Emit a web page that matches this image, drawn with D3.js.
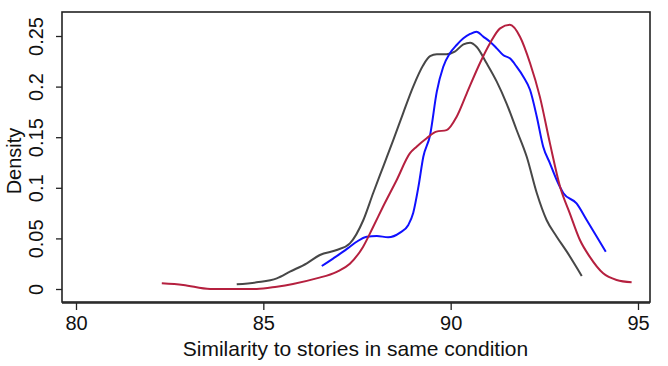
<!DOCTYPE html>
<html><head><meta charset="utf-8">
<script src="https://cdn.jsdelivr.net/npm/d3@7"></script>
<style>body{margin:0;background:#fff}svg{display:block}text{font-family:"Liberation Sans",Arial,Helvetica,sans-serif;fill:#111}</style>
</head><body><svg id="c" width="668" height="366"></svg>
<script>
const xTicks = [80, 85, 90, 95];
const yTicks = [0, 0.05, 0.1, 0.15, 0.2, 0.25];
const yTickLabels = ["0", "0.05", "0.1", "0.15", "0.2", "0.25"];
const xTitle = "Similarity to stories in same condition";
const yTitle = "Density";

const grayX = [84.29,84.82,85.36,85.71,86.16,86.51,86.96,87.31,87.67,87.93,88.20,88.47,88.73,89.00,89.27,89.45,89.63,89.89,90.11,90.34,90.52,90.69,90.96,91.23,91.49,91.76,92.03,92.30,92.56,92.83,93.10,93.50];
const grayY = [0.0046,0.0066,0.0105,0.0171,0.0254,0.0336,0.0385,0.0451,0.0682,0.0946,0.1210,0.1473,0.1736,0.2000,0.2213,0.2300,0.2319,0.2319,0.2345,0.2418,0.2434,0.2394,0.2230,0.2049,0.1835,0.1571,0.1307,0.0946,0.0682,0.0517,0.0369,0.0128];

const blueX = [86.56,86.87,87.13,87.31,87.49,87.76,88.03,88.33,88.65,88.87,89.00,89.14,89.27,89.45,89.63,89.80,89.98,90.16,90.34,90.52,90.69,90.87,91.05,91.23,91.40,91.58,91.76,91.94,92.12,92.30,92.47,92.65,92.83,93.01,93.36,93.63,93.90,94.14];
const blueY = [0.0227,0.0303,0.0369,0.0418,0.0467,0.0517,0.0524,0.0511,0.0557,0.0633,0.0751,0.1011,0.1307,0.1520,0.1950,0.2194,0.2329,0.2411,0.2477,0.2520,0.2543,0.2494,0.2444,0.2378,0.2312,0.2279,0.2197,0.2098,0.1966,0.1700,0.1406,0.1242,0.1077,0.0946,0.0846,0.0682,0.0517,0.0369];

const redX = [82.29,82.86,83.58,84.82,85.36,85.79,86.42,86.96,87.31,87.66,87.93,88.19,88.56,88.91,89.09,89.36,89.62,89.89,90.16,90.43,90.78,91.05,91.32,91.58,91.85,92.12,92.38,92.65,92.92,93.18,93.45,93.71,94.07,94.43,94.83];
const redY = [0.0056,0.0040,0.0000,0.0000,0.0023,0.0050,0.0105,0.0170,0.0250,0.0416,0.0613,0.0810,0.1077,0.1340,0.1406,0.1490,0.1555,0.1570,0.1703,0.1934,0.2231,0.2428,0.2576,0.2610,0.2493,0.2231,0.1901,0.1439,0.1011,0.0748,0.0484,0.0320,0.0155,0.0089,0.0066];

const svg = d3.select("#c");
const x = d3.scaleLinear().domain([80, 95]).range([76, 638]);
const y = d3.scaleLinear().domain([0, 0.25]).range([289, 36]);

// plot region box
svg.append("rect").attr("x", 62).attr("y", 12).attr("width", 588).attr("height", 290)
  .attr("fill", "none").attr("stroke", "#222").attr("stroke-width", 1.6);

// x axis
const gx = svg.append("g").attr("transform", "translate(0,303)")
  .call(d3.axisBottom(x).tickValues(xTicks).tickSize(7).tickSizeOuter(0).tickPadding(6).tickFormat(d3.format("d")));
gx.select(".domain").attr("stroke", "#222").attr("stroke-width", 1.6).attr("d", "M62,0H650");
gx.selectAll(".tick line").attr("stroke", "#222").attr("stroke-width", 1.3);
gx.selectAll(".tick text").attr("font-size", 20).attr("fill", "#111").attr("dy", "0.71em");

// y axis
const gy = svg.append("g").attr("transform", "translate(62,0)")
  .call(d3.axisLeft(y).tickValues(yTicks).tickSize(6).tickSizeOuter(0).tickFormat((d, i) => yTickLabels[i]));
gy.select(".domain").remove();
gy.selectAll(".tick line").attr("stroke", "#222").attr("stroke-width", 1.3);
gy.selectAll(".tick text").attr("font-size", 20).attr("fill", "#111")
  .attr("x", null).attr("dy", null).attr("text-anchor", "middle")
  .attr("transform", "translate(-19,0) rotate(-90)");

// titles
svg.append("text").attr("x", 355.5).attr("y", 356).attr("text-anchor", "middle")
  .attr("font-size", 21).text(xTitle);
svg.append("text").attr("transform", "translate(21,161) rotate(-90)").attr("text-anchor", "middle")
  .attr("font-size", 20).text(yTitle);

const line = d3.line().x(d => x(d[0])).y(d => y(d[1])).curve(d3.curveMonotoneX);
const series = [
  {xs: grayX, ys: grayY, color: "#474747"},
  {xs: blueX, ys: blueY, color: "#1010ff"},
  {xs: redX, ys: redY, color: "#b5203f"}
];
series.forEach(s => {
  svg.append("path").datum(s.xs.map((v, i) => [v, s.ys[i]]))
    .attr("d", line).attr("fill", "none").attr("stroke", s.color)
    .attr("stroke-width", 2).attr("stroke-linejoin", "round");
});
</script></body></html>
